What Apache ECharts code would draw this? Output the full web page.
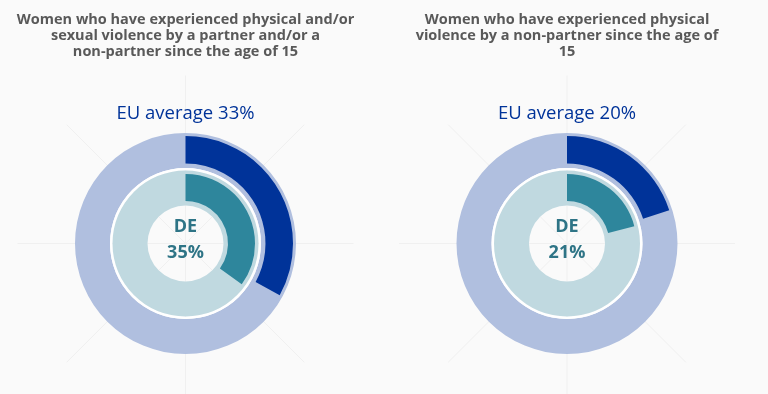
<!DOCTYPE html>
<html>
<head>
<meta charset="utf-8">
<script src="https://cdn.jsdelivr.net/npm/echarts@6/dist/echarts.min.js"></script>
<style>
html,body{margin:0;padding:0;background:#fafafa;}
#c{width:768px;height:394px;}
</style>
</head>
<body>
<div id="c"></div>
<script>
var chartTitles = [
  'Women who have experienced physical and/or\nsexual violence by a partner and/or a\nnon-partner since the age of 15',
  'Women who have experienced physical\nviolence by a non-partner since the age of\n15'
];
var countryCode = 'DE';
var euValues = [33, 20];
var countryValues = [35, 21];
var centers = [[185.5, 243.5], [567, 243.5]];

var FONT = '"Open Sans", "Noto Sans", sans-serif';
var chart = echarts.init(document.getElementById('c'), null, {renderer: 'canvas'});

var titles = [], series = [], polars = [], angleAxes = [], radiusAxes = [];
centers.forEach(function (c, i) {
  titles.push({
    text: chartTitles[i], left: c[0], top: 12, textAlign: 'center', padding: 0,
    textStyle: {fontFamily: FONT, fontSize: 14.5, fontWeight: 'bold', color: '#595959', lineHeight: 16}
  });
  titles.push({
    text: 'EU average ' + euValues[i] + '%', left: c[0], top: 103, textAlign: 'center', padding: 0,
    textStyle: {fontFamily: FONT, fontSize: 18.5, fontWeight: 'normal', color: '#003399', lineHeight: 22}
  });
  titles.push({
    text: countryCode + '\n' + countryValues[i] + '%', left: c[0], top: 214, textAlign: 'center', padding: 0,
    textStyle: {fontFamily: FONT, fontSize: 18, fontWeight: 'bold', color: '#2e7486', lineHeight: 26}
  });
  polars.push({center: c, radius: 168});
  angleAxes.push({
    polarIndex: i, type: 'value', min: 0, max: 360, interval: 45, startAngle: 90,
    axisLine: {show: false}, axisTick: {show: false}, axisLabel: {show: false},
    splitLine: {show: true, lineStyle: {color: '#f0f0f0', width: 1}}
  });
  radiusAxes.push({
    polarIndex: i, type: 'value', min: 0, max: 1,
    axisLine: {show: false}, axisTick: {show: false}, axisLabel: {show: false}, splitLine: {show: false}
  });
  var common = {type: 'pie', center: c, silent: true, label: {show: false}, labelLine: {show: false},
    startAngle: 90, clockwise: true, animation: false, emphasis: {disabled: true}};
  // outer background ring
  series.push(Object.assign({}, common, {
    radius: [75.5, 110.5],
    data: [{value: 100, itemStyle: {color: '#b0bfdf'}}]
  }));
  // white separator ring
  series.push(Object.assign({}, common, {
    radius: [73, 75.5],
    data: [{value: 100, itemStyle: {color: '#ffffff'}}]
  }));
  // inner background ring
  series.push(Object.assign({}, common, {
    radius: [38, 73],
    data: [{value: 100, itemStyle: {color: '#c0d9e0'}}]
  }));
  // EU value arc
  series.push(Object.assign({}, common, {
    radius: [80, 107.5],
    data: [
      {value: euValues[i], itemStyle: {color: '#003399'}},
      {value: 100 - euValues[i], itemStyle: {color: 'rgba(0,0,0,0)'}}
    ]
  }));
  // country value arc
  series.push(Object.assign({}, common, {
    radius: [42.5, 69.5],
    data: [
      {value: countryValues[i], itemStyle: {color: '#2e869c'}},
      {value: 100 - countryValues[i], itemStyle: {color: 'rgba(0,0,0,0)'}}
    ]
  }));
});

chart.setOption({
  backgroundColor: '#fafafa',
  animation: false,
  title: titles,
  polar: polars,
  angleAxis: angleAxes,
  radiusAxis: radiusAxes,
  series: series
});
</script>
</body>
</html>
